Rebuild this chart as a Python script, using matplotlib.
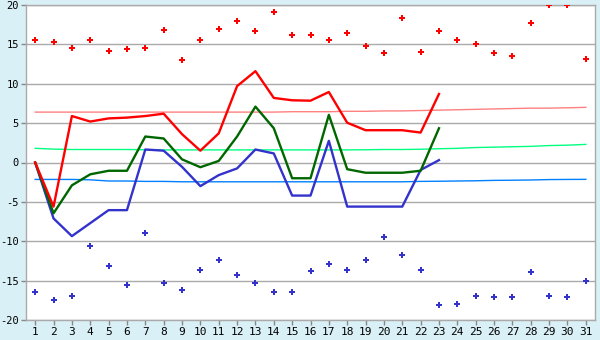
import numpy as np
import matplotlib
matplotlib.use("Agg")
import matplotlib.pyplot as plt

# ---------------------------------------------------------------------------
# Data
# ---------------------------------------------------------------------------

days = list(range(1, 32))
days_obs = list(range(1, 24))

# daily extremes (scatter)
max_pts = [15.6, 15.3, 14.6, 15.6, 14.2, 14.4, 14.5, 16.8, 13.0, 15.5,
           17.0, 18.0, 16.7, 19.1, 16.2, 16.2, 15.6, 16.5, 14.8, 13.9,
           18.4, 14.0, 16.7, 15.5, 15.0, 13.9, 13.5, 17.7, 20.0, 20.0, 13.1]
min_pts = [-16.5, -17.5, -17.0, -10.6, -13.1, -15.6, -8.9, -15.3, -16.2, -13.7,
           -12.4, -14.3, -15.3, -16.4, -16.5, -13.8, -12.9, -13.7, -12.4, -9.5,
           -11.8, -13.6, -18.1, -18.0, -17.0, -17.1, -17.1, -13.9, -16.9, -17.1, -15.0]

# observed series (days 1-23)
t_max = [0.0, -5.6, 5.9, 5.2, 5.6, 5.7, 5.9, 6.2, 3.6, 1.5,
         3.7, 9.7, 11.6, 8.2, 7.9, 7.85, 8.95, 5.05, 4.1, 4.1,
         4.1, 3.8, 8.7]
t_mean = [0.0, -6.45, -2.9, -1.5, -1.05, -1.05, 3.3, 3.05, 0.4, -0.6,
          0.2, 3.3, 7.1, 4.35, -2.0, -2.0, 6.05, -0.85, -1.3, -1.3,
          -1.3, -1.05, 4.35]
t_min = [0.0, -7.1, -9.35, -7.7, -6.05, -6.05, 1.65, 1.5, -0.55, -3.0,
         -1.6, -0.75, 1.65, 1.15, -4.2, -4.2, 2.75, -5.6, -5.6, -5.6,
         -5.6, -0.95, 0.3]

# normals (thin lines)
norm_max = [6.4] * 14 + [6.45, 6.45, 6.45, 6.5, 6.5, 6.55, 6.55,
                         6.6, 6.65, 6.7, 6.75, 6.8, 6.85, 6.9, 6.9, 6.95, 7.0]
norm_mean = [1.8, 1.7, 1.65, 1.65, 1.65, 1.65, 1.62, 1.6, 1.6, 1.6,
             1.6, 1.6, 1.6, 1.6, 1.6, 1.6, 1.6, 1.6, 1.62, 1.65,
             1.65, 1.68, 1.75, 1.8, 1.9, 1.95, 2.0, 2.05, 2.15, 2.2, 2.3]
norm_min = [-2.15, -2.15, -2.15, -2.2, -2.35, -2.35, -2.4, -2.4, -2.45, -2.45,
            -2.45, -2.45, -2.45, -2.45, -2.45, -2.45, -2.45, -2.45, -2.45, -2.45,
            -2.45, -2.4, -2.38, -2.35, -2.32, -2.27, -2.25, -2.22, -2.17, -2.15, -2.14]

y_ticks = [-20, -15, -10, -5, 0, 5, 10, 15, 20]

# ---------------------------------------------------------------------------
# Plot
# ---------------------------------------------------------------------------

bg = '#DAF0F7'
grid_c = '#AAAAAA'

fig = plt.figure(figsize=(6.0, 3.4), dpi=100, facecolor=bg)
ax = fig.add_axes([26 / 600, 1 - 320 / 340, 569 / 600, 315 / 340])
ax.set_facecolor('white')

ax.set_xlim(0.5, 31.5)
ax.set_ylim(-20, 20)

for v in y_ticks:
    ax.axhline(v, color=grid_c, lw=1.0, zorder=1)

ax.plot(days, norm_max, color='#FF8080', lw=1.0, zorder=2)
ax.plot(days, norm_mean, color='#00FF80', lw=1.0, zorder=2)
ax.plot(days, norm_min, color='#0080FF', lw=1.0, zorder=2)

ax.plot(days_obs, t_min, color='#3333CC', lw=1.7, zorder=3)
ax.plot(days_obs, t_mean, color='#006600', lw=1.7, zorder=4)
ax.plot(days_obs, t_max, color='#FF0000', lw=1.7, zorder=5)

ax.plot(days, max_pts, ls='none', marker='P', ms=4.5, color='#FF0000',
        mec='#FF0000', mew=0, zorder=6)
ax.plot(days, min_pts, ls='none', marker='P', ms=4.5, color='#3333CC',
        mec='#3333CC', mew=0, zorder=6)

for s in ax.spines.values():
    s.set_color(grid_c)
    s.set_linewidth(1.0)

ax.set_xticks(days)
ax.set_xticklabels([str(d) for d in days])
ax.set_yticks(y_ticks)
ax.set_yticklabels([str(v) for v in y_ticks])
ax.tick_params(axis='both', direction='out', length=3.5, width=1,
               color='#888888', labelsize=7.5, labelcolor='black', pad=1.5)
ax.tick_params(axis='x', labelsize=8)
for lbl in ax.get_xticklabels() + ax.get_yticklabels():
    lbl.set_family('DejaVu Sans Mono')

fig.savefig('out.png', dpi=100, facecolor=bg)
